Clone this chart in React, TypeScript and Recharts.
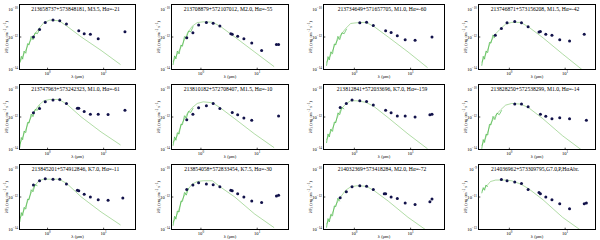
import React from 'react';
import { ComposedChart, Line, Scatter, XAxis, YAxis } from 'recharts';

// panel titles: object id, spectral type, H-alpha EW
const TITLES = [
  '213658737+573848181, M3.5, Hα=-21',
  '213708879+572107012, M2.0, Hα=-55',
  '213734649+571657705, M1.0, Hα=-60',
  '213746871+573156208, M1.5, Hα=-42',
  '213747963+573242323, M1.0, Hα=-61',
  '213810182+572708407, M1.5, Hα=-10',
  '213812841+572033696, K7.0, Hα=-159',
  '213828250+572538299, M1.0, Hα=-14',
  '213845201+574912846, K7.0, Hα=-11',
  '213854058+572833454, K7.5, Hα=-30',
  '214032369+573418284, M2.0, Hα=-72',
  '214036962+573309795,G7.0,P,HαAbr.',
];

// photometric band wavelengths (micron)
const BANDS = [0.56, 0.72, 0.91, 1.25, 1.65, 2.17, 3.4, 3.6, 4.5, 5.8, 8.0, 12, 22, 24];
// model photosphere wavelengths
const MODEL_WAVE = [0.32, 0.38, 0.46, 0.57, 0.7, 0.86, 1.1, 1.6, 2.2, 4, 9, 20];
// optical spectrum wavelengths
const SPEC_WAVE = [0.32, 0.34, 0.36, 0.38, 0.41, 0.44, 0.47, 0.51, 0.55, 0.6, 0.66, 0.73];

const PHOT_01 = [1.0e-12, 2.9e-12, 7.9e-12, 1.1e-11, 1.0e-11, 6.2e-12, null, 2.4e-12, 1.6e-12, 1.5e-12, 7.9e-13, null, null, 2.1e-12];
const PHOT_02 = [9e-13, 1.8e-12, 5.4e-12, 7.9e-12, 6.9e-12, 4.7e-12, 1.6e-12, 1.5e-12, 1.1e-12, 7.9e-13, 4.3e-13, 1.5e-13, 3.5e-13, 3.5e-13];
const PHOT_03 = [null, null, null, 7.5e-12, 8e-12, 5.1e-12, null, 2.4e-12, 1.9e-12, 1.2e-12, 6.8e-13, 6.2e-13, null, 1e-12];
const PHOT_04 = [1.3e-12, 3.3e-12, 7.5e-12, 9e-12, 7.5e-12, 4.2e-12, 2e-12, 2.2e-12, 1.5e-12, 1.3e-12, 6.8e-13, 5.6e-13, 1.5e-12, null];
const PHOT_05 = [1.8e-12, 3.3e-12, 8.6e-12, 1.1e-11, 1.15e-11, 6.8e-12, 3.5e-12, 3.5e-12, 2.2e-12, 1.5e-12, 1.5e-12, 1.45e-12, null, 2.6e-12];
const PHOT_06 = [6.8e-13, 1.5e-12, 3.7e-12, 5e-12, 6.8e-12, 3.3e-12, null, 1.9e-12, 1.4e-12, 8.6e-13, 6.2e-13, null, null, 1.15e-12];
const PHOT_07 = [3.8e-12, 6.8e-12, 1.1e-11, 1e-11, 9e-12, 5.4e-12, null, 2.6e-12, 1.8e-12, 1.15e-12, 1.15e-12, 1e-12, 1.4e-12, 1.5e-12];
const PHOT_08 = [null, null, null, 6.2e-12, 6.2e-12, 4.2e-12, null, 1.5e-12, 1.1e-12, 7.8e-13, 9e-13, 7.8e-13, null, 6.2e-13];
const PHOT_09 = [5.4e-12, 1e-11, 1.35e-11, 1.25e-11, 1.25e-11, 6.2e-12, 2.6e-12, 2.4e-12, 1.5e-12, 1e-12, 6.8e-13, 6.2e-13, 8.6e-13, null];
const PHOT_10 = [2.9e-12, 5.4e-12, 7.5e-12, 6.2e-12, 5.6e-12, 4.2e-12, 2.6e-12, 2.4e-12, 1.6e-12, 1e-12, 5.6e-13, 4.6e-13, 1.15e-12, 1.3e-12];
const PHOT_11 = [9e-13, 2.1e-12, 4.2e-12, 4.9e-12, 4.6e-12, 2.9e-12, 1.6e-12, 1.6e-12, 1e-12, 8.2e-13, 4.3e-13, 3.5e-13, 5.1e-13, 7.5e-13];
const PHOT_12 = [null, 1.2e-10, 1e-10, 8.3e-11, 6.8e-11, 2.9e-11, 1.9e-11, 1.6e-11, 1e-11, 6.8e-12, 3.8e-12, 1.9e-12, 3.8e-12, 4.2e-12];

const MODEL_01 = [2.7e-14, 9e-14, 3.9e-13, 1.26e-12, 3.3e-12, 7.6e-12, 1.1e-11, 1.0e-11, 4.7e-12, 1e-12, 1.5e-13, 2e-14];
const MODEL_02 = [3e-14, 9e-14, 3e-13, 1.6e-12, 4.6e-12, 7.7e-12, 8.6e-12, 8.2e-12, 4.6e-12, 1e-12, 1.2e-13, 1.5e-14];
const MODEL_03 = [2.7e-14, 7.8e-14, 3.9e-13, 1.3e-12, 3.3e-12, 6.8e-12, 7.5e-12, 8e-12, 4.6e-12, 1e-12, 1.2e-13, 1.3e-14];
const MODEL_04 = [2.7e-14, 9e-14, 4.9e-13, 1.6e-12, 3.3e-12, 6.2e-12, 7.9e-12, 7.9e-12, 4.2e-12, 9e-13, 9e-14, 1e-14];
const MODEL_05 = [2.1e-14, 9e-14, 4.9e-13, 2e-12, 5.4e-12, 1e-11, 1.2e-11, 1.2e-11, 6.2e-12, 1e-12, 1.2e-13, 1.9e-14];
const MODEL_06 = [2.7e-14, 7e-14, 3.9e-13, 1.6e-12, 3.8e-12, 6.8e-12, 8.6e-12, 7.5e-12, 3.7e-12, 7.8e-13, 9e-14, 1.3e-14];
const MODEL_07 = [3.9e-14, 1.2e-13, 4.9e-13, 2.8e-12, 6.2e-12, 1e-11, 1e-11, 8e-12, 4.6e-12, 9e-13, 9e-14, 1.1e-14];
const MODEL_08 = [1.7e-14, 5.6e-14, 3.9e-13, 1.3e-12, 2.8e-12, 5.4e-12, 6.8e-12, 6.2e-12, 3.8e-12, 7.8e-13, 7e-14, 9e-15];
const MODEL_09 = [4.6e-14, 1.5e-13, 7.8e-13, 4.2e-12, 1e-11, 1.25e-11, 1.25e-11, 1.25e-11, 6.8e-12, 1e-12, 1.2e-13, 1.9e-14];
const MODEL_10 = [2.7e-14, 9e-14, 6.2e-13, 2.6e-12, 6.2e-12, 9e-12, 1e-11, 1e-11, 4.2e-12, 1e-12, 9e-14, 1.3e-14];
const MODEL_11 = [2.1e-14, 5.6e-14, 3e-13, 1e-12, 2.6e-12, 4.2e-12, 4.9e-12, 4.6e-12, 2.6e-12, 5.6e-13, 5.6e-14, 8e-15];
const MODEL_12 = [2.4e-11, 4.2e-11, 9e-11, 1.1e-10, 1.1e-10, 1.1e-10, 1e-10, 6.2e-11, 3.3e-11, 6.8e-12, 5.6e-13, 8e-14];

const SPEC_01 = [2.6e-14, 6.5e-14, 4.3e-14, 1.35e-13, 1.0e-13, 3.9e-13, 3.3e-13, 1.1e-12, 6.8e-13, 1.8e-12, 1.6e-12, 3.2e-12];
const SPEC_02 = [1.9e-14, 6.9e-14, 4.5e-14, 1.35e-13, 9.1e-14, 3.2e-13, 2.7e-13, 1.07e-12, 7.9e-13, 2.3e-12, 2.1e-12, 4.5e-12];
const SPEC_03 = [1.7e-14, 6.2e-14, 3.9e-14, 1.2e-13, 9.3e-14, 3.7e-13, 3.3e-13, 1.1e-12, 6.9e-13, 1.8e-12, 1.6e-12, 3.2e-12];
const SPEC_04 = [1.7e-14, 6.5e-14, 4.3e-14, 1.35e-13, 1.1e-13, 4.6e-13, 4.2e-13, 1.35e-12, 8.5e-13, null, null, null];
const SPEC_05 = [1.3e-14, 5.5e-14, 4e-14, 1.35e-13, 1.1e-13, 4.6e-13, 4.3e-13, 1.5e-12, 1.05e-12, 2.9e-12, 2.6e-12, 5.2e-12];
const SPEC_06 = [1.7e-14, 6e-14, 3.7e-14, 1.07e-13, 8.9e-14, 3.6e-13, 3.4e-13, 1.2e-12, 8.3e-13, 2.2e-12, 1.9e-12, 3.6e-12];
const SPEC_07 = [2.5e-14, 9.1e-14, 5.9e-14, 1.8e-13, 1.3e-13, 4.9e-13, 4.5e-13, 1.8e-12, 1.4e-12, 3.8e-12, 3.1e-12, null];
const SPEC_08 = [1.1e-14, 4.1e-14, 2.7e-14, 8.5e-14, 7.8e-14, 3.5e-13, 3.3e-13, 1.1e-12, 6.9e-13, 1.7e-12, 1.4e-12, 2.6e-12];
const SPEC_09 = [2.9e-14, 1.1e-13, 7.2e-14, 2.3e-13, 1.8e-13, 7.4e-13, 6.9e-13, 2.8e-12, 2.1e-12, 5.8e-12, 4.9e-12, null];
const SPEC_10 = [1.7e-14, 6.5e-14, 4.3e-14, 1.35e-13, 1.2e-13, 5.5e-13, 5.4e-13, 1.9e-12, 1.3e-12, 3.5e-12, null, null];
const SPEC_11 = [1.3e-14, 4.7e-14, 2.9e-14, 8.5e-14, 6.9e-14, 2.8e-13, 2.6e-13, 8.5e-13, 5.4e-13, null, null, null];
const SPEC_12 = [1.7e-11, 3.8e-11, 2.6e-11, 5.5e-11, 4.2e-11, null, null, null, null, null, null, null];

const PHOT = [PHOT_01, PHOT_02, PHOT_03, PHOT_04, PHOT_05, PHOT_06, PHOT_07, PHOT_08, PHOT_09, PHOT_10, PHOT_11, PHOT_12];
const MODEL = [MODEL_01, MODEL_02, MODEL_03, MODEL_04, MODEL_05, MODEL_06, MODEL_07, MODEL_08, MODEL_09, MODEL_10, MODEL_11, MODEL_12];
const SPEC = [SPEC_01, SPEC_02, SPEC_03, SPEC_04, SPEC_05, SPEC_06, SPEC_07, SPEC_08, SPEC_09, SPEC_10, SPEC_11, SPEC_12];

// plot box per column (px inside each 150x80 cell) and x range
const COL_LEFT = [19, 21, 23, 28];
const COL_RIGHT = [136, 139, 145, 146];
const PLOT_TOP = 4;
const PLOT_BOTTOM = 70;
const X_DOMAINS = [[0.316, 37], [0.3, 36], [0.283, 40], [0.28, 35]];

const FONT = '"Liberation Serif", "DejaVu Serif", serif';
const MODEL_COLOR = '#7cc46a';
const SPEC_COLOR = '#2fae2f';
const DOT_COLOR = '#12124a';
const TICK = 1.8;

const toPoints = (xs: number[], ys: (number | null)[]) =>
  xs.map((x, i) => ({ x, y: ys[i] })).filter((p) => p.y != null);

const sup = (v: number) => String(Math.round(Math.log10(v))).replace('-', '\u2212');

// axes are mirrored (inward ticks, no reserved space); labels are put back outside here
const XTick = ({ x, y, payload }: any) => (
  <text x={x} y={y + TICK + 5} textAnchor="middle" fontSize={4.6} fontFamily={FONT} fill="#000">
    10<tspan dy={-1.9} fontSize={3.3}>{sup(payload.value)}</tspan>
  </text>
);

const YTick = ({ x, y, payload }: any) => (
  <text x={x - TICK - 1.5} y={y + 1.6} textAnchor="end" fontSize={4.6} fontFamily={FONT} fill="#000">
    10<tspan dy={-1.9} fontSize={3.3}>{sup(payload.value)}</tspan>
  </text>
);

const Dot = ({ cx, cy }: any) => <circle cx={cx} cy={cy} r={1.5} fill={DOT_COLOR} />;

// frame (css border), title and axis titles drawn over the chart
function PanelDecor({ idx }: { idx: number }) {
  const col = idx % 4;
  const left = COL_LEFT[col];
  const right = COL_RIGHT[col];
  const cx = (left + right) / 2;
  const ly = left - 11.4;
  const lyc = (PLOT_TOP + PLOT_BOTTOM) / 2;
  return (
    <>
      <div
        style={{
          position: 'absolute',
          left,
          top: PLOT_TOP,
          width: right - left,
          height: PLOT_BOTTOM - PLOT_TOP,
          border: '1px solid #000',
          boxSizing: 'border-box',
          pointerEvents: 'none',
          zIndex: 2,
        }}
      />
      <svg width={150} height={80} style={{ position: 'absolute', left: 0, top: 0, pointerEvents: 'none', zIndex: 3 }}>
        <text x={cx - 2} y={PLOT_TOP + 7} textAnchor="middle" fontSize={5.6} fontFamily={FONT}>
          {TITLES[idx]}
        </text>
        <text x={cx} y={77.8} textAnchor="middle" fontSize={4.6} fontFamily={FONT}>
          λ (μm)
        </text>
        <text x={ly} y={lyc} transform={`rotate(-90 ${ly} ${lyc})`} textAnchor="middle" fontSize={4.4} fontFamily={FONT}>
          λF<tspan dy={1} fontSize={3.2}>λ</tspan>
          <tspan dy={-1}> (erg cm</tspan>
          <tspan dy={-1.6} fontSize={3.2}>−2</tspan>
          <tspan dy={1.6}> s</tspan>
          <tspan dy={-1.6} fontSize={3.2}>−1</tspan>
          <tspan dy={1.6}>)</tspan>
        </text>
      </svg>
    </>
  );
}

function SedPanel({ idx }: { idx: number }) {
  const col = idx % 4;
  const row = Math.floor(idx / 4);
  const left = COL_LEFT[col];
  const right = COL_RIGHT[col];
  const xDom = X_DOMAINS[col];
  const yDom = idx === 11 ? [1e-13, 1e-9] : [1e-14, 1e-10];
  const yTicks = idx === 11 ? [1e-13, 1e-12, 1e-11, 1e-10, 1e-9] : [1e-14, 1e-13, 1e-12, 1e-11, 1e-10];

  return (
    <div style={{ position: 'absolute', left: col * 150, top: row * 80, width: 150, height: 80 }}>
      <ComposedChart
        width={150}
        height={80}
        margin={{ top: PLOT_TOP + 0.5, right: 150 - right + 0.5, bottom: 80 - PLOT_BOTTOM + 0.5, left: left + 0.5 }}
      >
        <XAxis
          type="number"
          dataKey="x"
          scale="log"
          domain={xDom}
          allowDataOverflow
          ticks={[1, 10]}
          tick={<XTick />}
          mirror
          tickSize={TICK}
          tickMargin={0}
          tickLine={{ stroke: '#000', strokeWidth: 0.7 }}
          axisLine={false}
          height={11}
        />
        <YAxis
          type="number"
          dataKey="y"
          scale="log"
          domain={yDom}
          allowDataOverflow
          ticks={yTicks}
          tick={<YTick />}
          mirror
          tickSize={TICK}
          tickMargin={0}
          tickLine={{ stroke: '#000', strokeWidth: 0.7 }}
          axisLine={false}
          width={left}
        />
        <Line
          data={toPoints(MODEL_WAVE, MODEL[idx])}
          dataKey="y"
          type="linear"
          stroke={MODEL_COLOR}
          strokeWidth={0.6}
          dot={false}
          isAnimationActive={false}
        />
        <Line
          data={toPoints(SPEC_WAVE, SPEC[idx])}
          dataKey="y"
          type="linear"
          stroke={SPEC_COLOR}
          strokeWidth={0.6}
          dot={false}
          isAnimationActive={false}
        />
        <Scatter data={toPoints(BANDS, PHOT[idx])} dataKey="y" shape={<Dot />} isAnimationActive={false} />
      </ComposedChart>
      <PanelDecor idx={idx} />
    </div>
  );
}

export default function App() {
  return (
    <div style={{ position: 'absolute', left: 0, top: 0, width: 600, height: 240, background: '#fff' }}>
      {TITLES.map((_, i) => (
        <SedPanel key={i} idx={i} />
      ))}
    </div>
  );
}
